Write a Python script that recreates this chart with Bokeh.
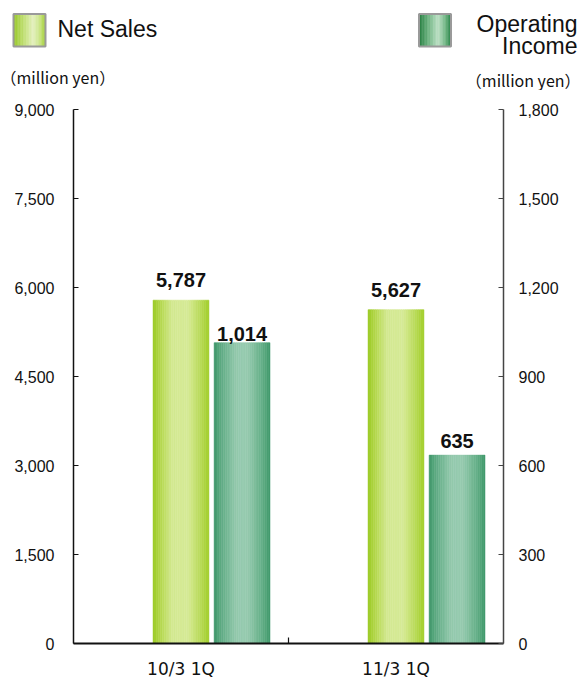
from bokeh.plotting import figure
from bokeh.models import Range1d, LinearAxis, FixedTicker, NumeralTickFormatter, ColumnDataSource
from bokeh.layouts import column
from bokeh.embed import file_html
from bokeh.resources import INLINE
from bokeh.core.properties import value

# ---------------- data ----------------
categories = ["10/3 1Q", "11/3 1Q"]
net_sales = [5787, 5627]
operating_income = [1014, 635]
left_ticks = [0, 1500, 3000, 4500, 6000, 7500, 9000]
right_ticks = [0, 300, 600, 900, 1200, 1500, 1800]
series_names = ["Net Sales", "Operating\nIncome"]
unit_label = "（million yen）"

# ---------------- style / layout ----------------
W = 580
LEG_H = 90
CH_H = 591
BAR_W = 0.26
NS_OFF = 0.0
OI_OFF = 0.284
NS_GAP = [20, 20]
OI_GAP = [9, 14]

NS_STOPS = [(0.0, (152, 200, 30)), (0.12, (178, 214, 72)), (0.35, (212, 233, 146)),
            (0.62, (214, 234, 150)), (0.85, (185, 219, 88)), (1.0, (160, 205, 40))]
OI_STOPS = [(0.0, (60, 150, 104)), (0.14, (98, 173, 134)), (0.4, (148, 201, 173)),
            (0.6, (150, 202, 175)), (0.86, (100, 175, 135)), (1.0, (62, 152, 106))]
NS_LEG_STOPS = [(0.0, (150, 198, 40)), (0.3, (190, 222, 110)), (0.62, (228, 240, 190)),
                (0.85, (200, 228, 130)), (1.0, (165, 208, 60))]
OI_LEG_STOPS = [(0.0, (40, 128, 66)), (0.3, (110, 180, 130)), (0.6, (190, 225, 198)),
                (0.85, (110, 180, 130)), (1.0, (48, 138, 78))]


def color_at(stops, t):
    for (t0, c0), (t1, c1) in zip(stops[:-1], stops[1:]):
        if t <= t1:
            f = (t - t0) / (t1 - t0) if t1 > t0 else 0
            c = [round(a + (b - a) * f) for a, b in zip(c0, c1)]
            return "#%02x%02x%02x" % tuple(c)
    return "#%02x%02x%02x" % stops[-1][1]


def strips(centers, width, bottoms, tops, stops, n=30):
    L, R, T, B, C = [], [], [], [], []
    for c, b, t in zip(centers, bottoms, tops):
        x0 = c - width / 2
        for i in range(n):
            L.append(x0 + width * i / n)
            R.append(x0 + width * (i + 1) / n)
            T.append(t)
            B.append(b)
            C.append(color_at(stops, (i + 0.5) / n))
    return ColumnDataSource(dict(left=L, right=R, top=T, bottom=B, color=C))


# ---------------- legend strip (top) ----------------
lg = figure(width=W, height=LEG_H, x_range=Range1d(0, W), y_range=Range1d(LEG_H, 0),
            output_backend="svg", toolbar_location=None, min_border=0,
            min_border_left=0, min_border_right=0, min_border_top=0, min_border_bottom=0,
            x_axis_type=None, y_axis_type=None)
lg.frame_align = False
lg.grid.visible = False
lg.outline_line_color = None

for cx, stops in ((29, NS_LEG_STOPS), (434.5, OI_LEG_STOPS)):
    lg.quad(left="left", right="right", top="top", bottom="bottom",
            source=strips([cx], 31, [45.5], [14], stops, n=20),
            fill_color="color", line_color="color", line_width=0.5)
    lg.rect(x=[cx], y=[29.75], width=[32], height=[32.5], fill_color=None,
            line_color="#9a9a9a", line_width=2)

leg_font = dict(text_font=value("Liberation Sans"), text_font_size="23px",
                text_baseline="middle", text_color="#111111")
lg.text(x=[57], y=[28.5], text=[series_names[0]], text_align="left", **leg_font)
lg.text(x=[577, 577], y=[23.5, 45.5], text=series_names[1].split("\n"), text_align="right", **leg_font)
unit_font = dict(text_font=value("Noto Sans CJK JP"), text_font_size="16px",
                 text_baseline="middle", text_color="#111111")
lg.text(x=[0], y=[76], text=[unit_label], text_align="left", **unit_font)
lg.text(x=[580], y=[79], text=[unit_label], text_align="right", **unit_font)

# ---------------- chart ----------------
p = figure(width=W, height=CH_H, x_range=Range1d(-0.5, 1.5), y_range=Range1d(0, 9000),
           output_backend="svg", toolbar_location=None,
           min_border_left=73, min_border_right=77, min_border_top=19, min_border_bottom=38)
p.frame_align = False
p.extra_y_ranges = {"oi": Range1d(0, 1800)}
p.grid.visible = False
p.outline_line_color = None

xs = list(range(len(categories)))
ns_x = [x + NS_OFF for x in xs]
oi_x = [x + OI_OFF for x in xs]

p.quad(left="left", right="right", top="top", bottom="bottom",
       source=strips(ns_x, BAR_W, [0] * len(xs), net_sales, NS_STOPS),
       fill_color="color", line_color="color", line_width=0.5)
p.quad(left="left", right="right", top="top", bottom="bottom",
       source=strips(oi_x, BAR_W, [0] * len(xs), operating_income, OI_STOPS),
       fill_color="color", line_color="color", line_width=0.5, y_range_name="oi")

lab_font = dict(text_font=value("Liberation Sans"), text_font_style="bold", text_font_size="20px",
                text_align="center", text_baseline="middle", text_color="#111111")
p.text(x=ns_x, y=net_sales, text=[f"{v:,}" for v in net_sales],
       y_offset=[-g for g in NS_GAP], **lab_font)
p.text(x=oi_x, y=operating_income, text=[f"{v:,}" for v in operating_income],
       y_offset=[-g for g in OI_GAP], y_range_name="oi", **lab_font)

# left axis
ya = p.yaxis[0]
ya.ticker = FixedTicker(ticks=left_ticks)
ya.formatter = NumeralTickFormatter(format="0,0")
ya.major_tick_in = 5
ya.major_tick_out = 0
ya.minor_tick_in = 0
ya.minor_tick_out = 0
ya.major_label_standoff = 19
ya.major_label_text_font = "Liberation Sans"
ya.major_label_text_font_size = "16px"
ya.major_label_text_color = "#111111"
ya.axis_line_color = "#111111"
ya.axis_line_width = 1.5
ya.major_tick_line_color = "#111111"
ya.major_tick_line_width = 1.2

# right axis
ra = LinearAxis(y_range_name="oi", ticker=FixedTicker(ticks=right_ticks),
                formatter=NumeralTickFormatter(format="0,0"))
ra.major_tick_in = 5
ra.major_tick_out = 0
ra.minor_tick_in = 0
ra.minor_tick_out = 0
ra.major_label_standoff = 15
ra.major_label_text_font = "Liberation Sans"
ra.major_label_text_font_size = "16px"
ra.major_label_text_color = "#111111"
ra.axis_line_color = "#444444"
ra.axis_line_width = 1.5
ra.major_tick_line_color = "#444444"
ra.major_tick_line_width = 1.2
p.add_layout(ra, "right")

# bottom axis
xa = p.xaxis[0]
xa.ticker = FixedTicker(ticks=xs, minor_ticks=[0.5])
xa.major_label_overrides = {i: c for i, c in zip(xs, categories)}
xa.major_tick_in = 0
xa.major_tick_out = 0
xa.major_tick_line_color = None
xa.minor_tick_in = 6
xa.minor_tick_out = 0
xa.minor_tick_line_color = "#111111"
xa.minor_tick_line_width = 1.2
xa.major_label_standoff = 15
xa.major_label_text_font = "DejaVu Sans"
xa.major_label_text_font_size = "17px"
xa.major_label_text_color = "#111111"
xa.axis_line_color = "#111111"
xa.axis_line_width = 2

layout = column(lg, p, spacing=0)
open("out.html", "w").write(file_html(layout, INLINE))
